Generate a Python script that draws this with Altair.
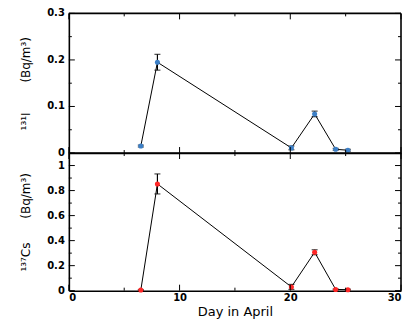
import altair as alt
import pandas as pd

# ---- data ----
days = [6.5, 8.0, 20.1, 22.2, 24.1, 25.2]
i131 = [0.015, 0.195, 0.011, 0.084, 0.008, 0.006]
i131_err = [0.002, 0.017, 0.004, 0.006, 0.002, 0.002]
cs137 = [0.005, 0.853, 0.03, 0.307, 0.01, 0.008]
cs137_err = [0.004, 0.08, 0.02, 0.02, 0.004, 0.004]

x_major = [0, 10, 20, 30]
x_minor = [5, 15, 25]
i_major = [0, 0.1, 0.2, 0.3]
i_major_labels = ["0", "0.1", "0.2", "0.3"]
i_minor = [0.05, 0.15, 0.25]
cs_major = [0, 0.2, 0.4, 0.6, 0.8, 1.0]
cs_major_labels = ["0", "0.2", "0.4", "0.6", "0.8", "1"]
cs_minor = [0.1, 0.3, 0.5, 0.7, 0.9]

W = 333
FONT = "DejaVu Sans"
FRAME = 1.6


def panel(vals, errs, color, ydom, ymajor, ylabels, yminor, title, height, show_x):
    df = pd.DataFrame({
        "day": days,
        "v": vals,
        "lo": [v - e for v, e in zip(vals, errs)],
        "hi": [v + e for v, e in zip(vals, errs)],
    })
    xs = alt.Scale(domain=[0, 30], nice=False, zero=False)
    ys = alt.Scale(domain=ydom, nice=False, zero=False)
    if show_x:
        xaxis = alt.Axis(values=x_major, format="~g", domain=True, domainColor="black",
                         domainWidth=FRAME, ticks=False, grid=False, labelOverlap=False,
                         labelFont=FONT, labelFontWeight="bold", labelFontSize=10,
                         labelColor="black", labelPadding=2,
                         title="Day in April", titleFont=FONT, titleFontWeight="normal",
                         titleFontSize=13, titleColor="black", titlePadding=3)
    else:
        xaxis = alt.Axis(values=x_major, domain=True, domainColor="black",
                         domainWidth=FRAME, ticks=False, grid=False,
                         labels=False, title=None)
    yaxis = alt.Axis(values=ymajor, domain=True, domainColor="black",
                     domainWidth=FRAME, ticks=False, grid=False, labels=False,
                     title=title, titleFont=FONT, titleFontWeight="normal",
                     titleFontSize=12, titleColor="black", titlePadding=36)

    base = alt.Chart(df)
    line = base.mark_line(color="black", strokeWidth=1).encode(
        x=alt.X("day:Q", scale=xs, axis=xaxis),
        y=alt.Y("v:Q", scale=ys, axis=yaxis),
    )
    err = base.mark_rule(color="black", strokeWidth=1.2).encode(
        x=alt.X("day:Q", scale=xs),
        y=alt.Y("lo:Q", scale=ys),
        y2="hi:Q",
    )
    cap_hi = base.mark_tick(orient="horizontal", color="black", size=6, thickness=1.2).encode(
        x=alt.X("day:Q", scale=xs),
        y=alt.Y("hi:Q", scale=ys),
    )
    cap_lo = base.mark_tick(orient="horizontal", color="black", size=6, thickness=1.2).encode(
        x=alt.X("day:Q", scale=xs),
        y=alt.Y("lo:Q", scale=ys),
    )
    pts = base.mark_circle(color=color, opacity=1, size=26).encode(
        x=alt.X("day:Q", scale=xs),
        y=alt.Y("v:Q", scale=ys),
    )

    layers = [line, err, cap_hi, cap_lo, pts]

    # y tick labels
    lab = alt.Chart(pd.DataFrame({"t": ymajor, "s": ylabels})).mark_text(
        align="right", baseline="middle", font=FONT, fontWeight="bold",
        fontSize=10, color="black", dx=-4
    ).encode(y=alt.Y("t:Q", scale=ys), x=alt.value(0), text="s:N")
    layers.append(lab)

    def yticks(values, length):
        d = alt.Chart(pd.DataFrame({"t": values}))
        left = d.mark_rule(color="black", strokeWidth=1).encode(
            y=alt.Y("t:Q", scale=ys), x=alt.value(0), x2=alt.value(length))
        right = d.mark_rule(color="black", strokeWidth=1).encode(
            y=alt.Y("t:Q", scale=ys), x=alt.value(W), x2=alt.value(W - length))
        return [left, right]

    def xticks(values, length):
        d = alt.Chart(pd.DataFrame({"t": values}))
        bottom = d.mark_rule(color="black", strokeWidth=1).encode(
            x=alt.X("t:Q", scale=xs), y=alt.value(height), y2=alt.value(height - length))
        top = d.mark_rule(color="black", strokeWidth=1).encode(
            x=alt.X("t:Q", scale=xs), y=alt.value(0), y2=alt.value(length))
        return [bottom, top]

    layers += yticks(ymajor, 6) + yticks(yminor, 3)
    layers += xticks(x_major, 6) + xticks(x_minor, 3)

    one = alt.Chart(pd.DataFrame({"a": [0]}))
    right_edge = one.mark_rule(color="black", strokeWidth=FRAME).encode(
        x=alt.value(W), y=alt.value(0), y2=alt.value(height))
    top_edge = one.mark_rule(color="black", strokeWidth=FRAME).encode(
        x=alt.value(0), x2=alt.value(W), y=alt.value(0))
    layers += [right_edge, top_edge]

    return alt.layer(*layers).properties(width=W, height=height)


top = panel(i131, i131_err, "#3c7fc6", [0, 0.3], i_major, i_major_labels, i_minor,
            "\u00b9\u00b3\u00b9I\u2003\u2003\u2002(Bq/m\u00b3)", 140, False)
bottom = panel(cs137, cs137_err, "#ff2626", [0, 1.1], cs_major, cs_major_labels, cs_minor,
               "\u00b9\u00b3\u2077Cs\u2003\u2003(Bq/m\u00b3)", 138, True)

chart = alt.vconcat(top, bottom, spacing=0, bounds="flush").properties(
    padding={"left": 12, "top": 0, "right": 2, "bottom": 0},
    background="white",
).configure_view(stroke=None).configure_axis(labelOverlap=False)

chart.save("out.html", embed_options={"renderer": "svg", "actions": False})
